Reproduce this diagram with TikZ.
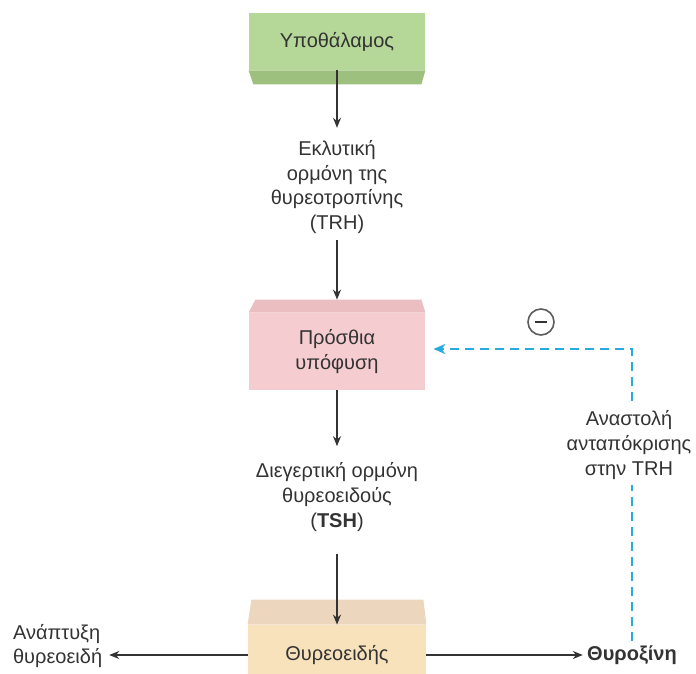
\documentclass[tikz,border=0pt]{standalone}
\usepackage{fontspec}
\setmainfont{Liberation Sans}
\usepackage{xcolor}
\definecolor{grface}{RGB}{181,215,151}
\definecolor{grband}{RGB}{158,192,126}
\definecolor{pkface}{RGB}{245,205,208}
\definecolor{pkband}{RGB}{235,190,193}
\definecolor{tnface}{RGB}{247,226,188}
\definecolor{tnband}{RGB}{236,214,190}
\definecolor{fb}{RGB}{40,170,222}
\definecolor{ink}{gray}{0.2}
\usetikzlibrary{arrows.meta}

\begin{document}
\begin{tikzpicture}[x=0.5pt, y=-0.5pt, font=\fontsize{10}{12.4}\selectfont, text=ink,
  face/.style={minimum width=88pt, inner sep=0pt},
  arr/.style={-{Stealth[length=5pt,width=4pt]}, line width=0.7pt, ink},
  lbl/.style={align=center, inner sep=3pt}]
\useasboundingbox (0,0) rectangle (696,674);
\node[face, fill=grface, minimum height=28.5pt] (hypo) at (337,41.5) {Υποθάλαμος};
\fill[grband] (hypo.south west) -- (hypo.south east) -- ++(-4,14) -- ++(-168,0) -- cycle;
\node[face, fill=pkface, minimum height=38.5pt, align=center] (pit) at (337,351.5) {Πρόσθια\\υπόφυση};
\fill[pkband] (pit.north west) -- (pit.north east) -- ++(-4,-13) -- ++(-166,0) -- cycle;
\node[face, fill=tnface, minimum height=30pt, minimum width=89pt] (thy) at (337,655) {Θυρεοειδής};
\fill[tnband] (thy.north west) -- (thy.north east) -- ++(-3,-25) -- ++(-172,0) -- cycle;
\node[lbl] (trh) at (337,187) {Εκλυτική\\ορμόνη της\\θυρεοτροπίνης\\(TRH)};
\node[lbl] (tsh) at (337,497) {Διεγερτική ορμόνη\\θυρεοειδούς\\(\textbf{TSH})};
\node[align=left, anchor=west] (grow) at (6,646) {Ανάπτυξη\\θυρεοειδή};
\node[inner sep=2pt] (t4) at (632,655) {\textbf{Θυροξίνη}};
\draw[arr, shorten >=3pt] (hypo.south) -- (trh.north);
\draw[arr] (trh.south) -- ([yshift=6.5pt]pit.north);
\draw[arr, shorten >=5pt] (pit.south) -- (tsh.north);
\draw[arr, shorten <=8pt] (tsh.south) -- (thy.north);
\draw[arr] (thy.west) -- (grow.east |- thy.west);
\draw[arr] (thy.east) -- (t4.west);
\draw[fb, line width=1.1pt, dash pattern=on 4.5pt off 3pt, -{Stealth[length=6pt,width=5pt]}, shorten >=4pt]
  (t4.north) |- ([yshift=1.25pt]pit.east);
\node[lbl, fill=white] (inhib) at (629,445) {Αναστολή\\ανταπόκρισης\\στην TRH};
\node[circle, draw=ink!80, line width=0.8pt, minimum size=13pt, inner sep=0pt] (minus) at (541,322) {\rule{6pt}{0.9pt}};
\end{tikzpicture}
\end{document}
